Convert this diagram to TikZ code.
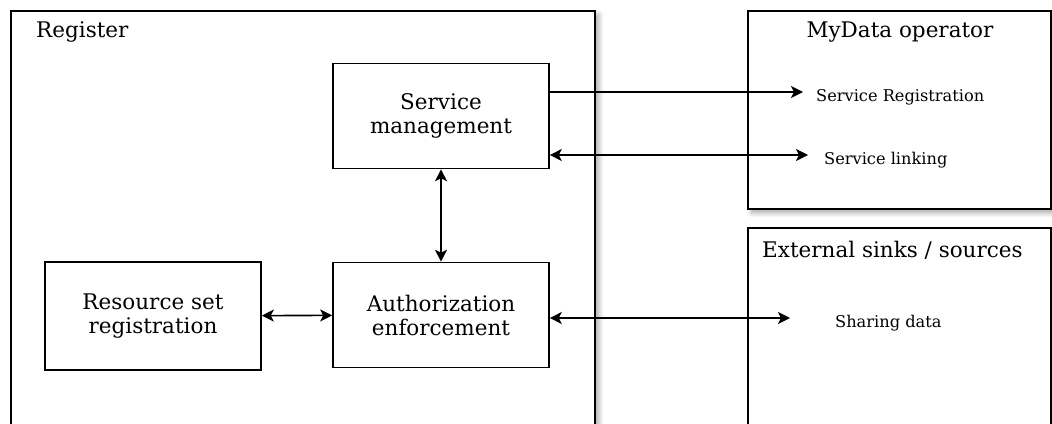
\documentclass[tikz,border=0pt]{standalone}
\usepackage{fontspec}
\setmainfont{DejaVu Serif}
\usetikzlibrary{arrows.meta,positioning,shadows.blur}

\begin{document}
\begin{tikzpicture}[
  x=1pt, y=-1pt,
  group/.style={rectangle, draw, line width=1.6pt, anchor=north west, inner sep=0pt,
                blur shadow={shadow xshift=4pt, shadow yshift=-4pt, shadow blur radius=5pt,
                             shadow opacity=35, shadow blur steps=8}},
  block/.style={rectangle, draw, line width=1.6pt, minimum width=216pt, minimum height=105pt,
                font=\fontsize{21.5}{24}\selectfont, align=center, fill=white},
  title/.style={font=\fontsize{21.5}{24}\selectfont, inner sep=0pt},
  lbl/.style={font=\fontsize{16.2}{18}\selectfont, inner sep=0pt, anchor=west, yshift=-5pt},
  arr/.style={-{Stealth[length=12pt,width=12pt,inset=3pt]}, line width=1.6pt},
  biarr/.style={{Stealth[length=12pt,width=12pt,inset=3pt]}-{Stealth[length=12pt,width=12pt,inset=3pt]},
                line width=1.6pt},
]
\useasboundingbox (0,0) rectangle (1052,423);

% outer containers
\node[group, minimum width=584pt, minimum height=440pt, fill=white] (register) at (10,10) {};
\node[group, minimum width=303pt, minimum height=198pt, fill=white] (mydata) at (747,10) {};
\node[group, minimum width=303pt, minimum height=220pt, fill=white] (external) at (747,227) {};

\node[title, anchor=west] (registert) at (36,32) {Register};
\node[title] (mydatat) at (900,32) {MyData operator};
\node[title, anchor=west] (externalt) at (762,250) {External sinks / sources};

% inner blocks
\node[block] (service) at (441,116) {Service\\management};
\node[block] (auth) at (441,315) {Authorization\\enforcement};
\node[block, minimum height=108pt] (resource) at (153,316) {Resource set\\registration};

% free arrow ends
\coordinate (regend) at (803,92);
\coordinate (linkend) at (808,155);
\coordinate (shareend) at (790,318);

\node[lbl, right=13pt of regend] (regl) {Service Registration};
\node[lbl, right=16pt of linkend] (linkl) {Service linking};
\node[lbl, right=45pt of shareend] (sharel) {Sharing data};

\draw[arr] (service.east |- regend) -- (regend);
\draw[biarr] (service.east |- linkend) -- (linkend);
\draw[biarr] (service) -- (auth);
\draw[biarr] (resource) -- (auth);
\draw[biarr] (auth.east |- shareend) -- (shareend);

\end{tikzpicture}
\end{document}
